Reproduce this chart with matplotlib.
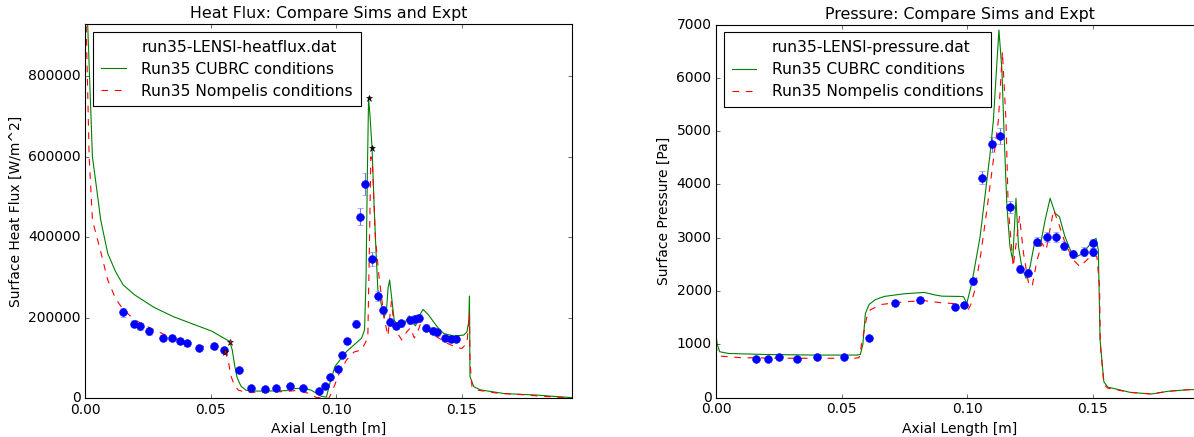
import numpy as np
import matplotlib
matplotlib.use('Agg')
import matplotlib.pyplot as plt
from matplotlib.lines import Line2D

plt.style.use('classic')

# --- heat flux: experiment (run35 LENS-I) ---
hf_x = [0.0150, 0.0195, 0.0219, 0.0255, 0.0311, 0.0345, 0.0376, 0.0405, 0.0452, 0.0511,
        0.0554, 0.0613, 0.0658, 0.0716, 0.0761, 0.0817, 0.0866, 0.0929, 0.0954, 0.0974,
        0.1005, 0.1022, 0.1044, 0.1077, 0.1095, 0.1114, 0.1140, 0.1165, 0.1184, 0.1214,
        0.1237, 0.1258, 0.1294, 0.1314, 0.1330, 0.1358, 0.1383, 0.1401, 0.1431, 0.1458,
        0.1476]
hf_y = [213700, 185500, 178900, 166500, 149000, 149000, 142400, 136600, 125900, 130000,
        120900, 71200, 25700, 23200, 25700, 29800, 24800, 19000, 29800, 52200,
        73700, 108000, 141600, 185500, 451200, 532400, 346100, 254200, 219400, 190300,
        180400, 186300, 194500, 196200, 198700, 175400, 168000, 164000, 150600, 148100,
        146600]
hf_err = [10700, 9300, 8900, 8300, 7500, 7500, 7100, 6800, 6300, 6500,
          6000, 3600, 1300, 1200, 1300, 1500, 1200, 1000, 1500, 2600,
          3700, 5400, 7100, 9300, 21500, 26500, 17000, 12500, 11000, 9500,
          9000, 9300, 9700, 9800, 9900, 8800, 8400, 8200, 7500, 7400,
          7300]

# --- heat flux: CUBRC conditions ---
hf_cubrc_x = [0.0, 0.0009, 0.0028, 0.0045, 0.0061, 0.0089, 0.012, 0.015, 0.0196, 0.0273,
              0.035, 0.0426, 0.0503, 0.0575, 0.0585, 0.0595, 0.0605, 0.062, 0.064, 0.066,
              0.072, 0.080, 0.083, 0.087, 0.090, 0.094, 0.096, 0.0975, 0.0994, 0.102,
              0.104, 0.1065, 0.1078, 0.110, 0.1112, 0.1118, 0.1123, 0.1128, 0.1134, 0.1142,
              0.1150, 0.1158, 0.1165, 0.118, 0.119, 0.1200, 0.1206, 0.1212, 0.1220, 0.1230,
              0.1245, 0.127, 0.1285, 0.1290, 0.1300, 0.1315, 0.1330, 0.1345, 0.1367, 0.1401,
              0.1427, 0.1467, 0.1507, 0.1520, 0.1527, 0.1530, 0.1532, 0.1547, 0.1573, 0.1666,
              0.1726, 0.180, 0.186, 0.192, 0.194]
hf_cubrc_y = [1100000, 930000, 600000, 520000, 443000, 360000, 315000, 282000, 257000, 226000,
              203000, 185000, 167000, 141000, 120000, 80000, 50000, 30000, 20000, 18000,
              18000, 19000, 24000, 25000, 20000, 5000, 3000, 40000, 79000, 100000,
              116000, 130000, 137000, 149000, 170000, 300000, 550000, 745000, 700000, 620000,
              480000, 360000, 270000, 230000, 200000, 225000, 275000, 294000, 250000, 195000,
              180000, 185000, 200000, 205000, 190000, 180000, 205000, 221000, 207000, 178000,
              161000, 155000, 157000, 165000, 190000, 254000, 54000, 29000, 21000, 12000,
              10000, 8000, 5000, 2500, 1500]

# --- heat flux: Nompelis conditions ---
hf_nomp_x = [0.0, 0.0003, 0.0015, 0.0028, 0.0061, 0.0089, 0.012, 0.015, 0.0196, 0.0273,
             0.035, 0.0426, 0.0503, 0.0558, 0.0570, 0.0580, 0.0595, 0.061, 0.064, 0.072,
             0.080, 0.085, 0.089, 0.092, 0.097, 0.0985, 0.101, 0.104, 0.107, 0.110,
             0.1125, 0.1132, 0.1137, 0.1143, 0.1150, 0.1155, 0.117, 0.119, 0.1205, 0.1219,
             0.123, 0.1245, 0.126, 0.128, 0.1295, 0.131, 0.132, 0.1335, 0.135, 0.138,
             0.142, 0.144, 0.148, 0.150, 0.152, 0.1530, 0.1532, 0.154, 0.1565, 0.165,
             0.172, 0.180, 0.187, 0.194]
hf_nomp_y = [1100000, 930000, 600000, 443000, 364000, 294000, 248000, 221000, 195000, 170000,
             149000, 135000, 124000, 114000, 90000, 55000, 30000, 20000, 15000, 15000,
             17000, 20000, 12000, 2000, 0, 20000, 60000, 95000, 115000, 120000,
             150000, 400000, 600000, 590000, 480000, 400000, 300000, 200000, 155000, 240000,
             180000, 160000, 145000, 165000, 175000, 150000, 160000, 185000, 180000, 160000,
             145000, 137000, 126000, 124000, 137000, 211000, 90000, 29000, 20000, 12000,
             10000, 6000, 3000, 500]

# starred points on the heat flux curves
hf_star_x = [0.0575, 0.0558]
hf_star_y = [140000, 114000]
hf_peak_x = [0.1128, 0.1142]
hf_peak_y = [745000, 623000]

# --- pressure: experiment ---
p_x = [0.0159, 0.0209, 0.0252, 0.0323, 0.0402, 0.0508, 0.0611, 0.0714, 0.0814, 0.0952,
       0.0986, 0.1023, 0.1059, 0.1098, 0.1132, 0.1170, 0.1211, 0.1241, 0.1277, 0.1317,
       0.1356, 0.1386, 0.1423, 0.1465, 0.1503, 0.1503]
p_y = [719, 719, 756, 719, 756, 756, 1113, 1781, 1831, 1706,
       1744, 2181, 4124, 4752, 4913, 3578, 2419, 2344, 2925, 3019,
       3019, 2850, 2694, 2738, 2731, 2894]
p_err = [20, 20, 22, 20, 22, 22, 32, 52, 54, 50,
         51, 64, 121, 140, 145, 105, 71, 69, 86, 89,
         89, 84, 79, 81, 81, 85]

# --- pressure: CUBRC conditions ---
p_cubrc_x = [0.0, 0.0005, 0.0015, 0.005, 0.02, 0.04, 0.056, 0.0575, 0.0585, 0.0595,
             0.061, 0.0635, 0.067, 0.075, 0.083, 0.087, 0.090, 0.0970, 0.0986, 0.0999,
             0.1019, 0.1052, 0.1092, 0.1105, 0.1127, 0.1139, 0.1148, 0.1159, 0.1171, 0.1182,
             0.1195, 0.1205, 0.1218, 0.1235, 0.1251, 0.1271, 0.1291, 0.1311, 0.1331, 0.1351,
             0.1368, 0.1390, 0.1417, 0.1437, 0.1463, 0.1497, 0.1514, 0.1523, 0.1530, 0.1545,
             0.156, 0.165, 0.1735, 0.180, 0.188, 0.194]
p_cubrc_y = [1175, 1000, 862, 830, 810, 800, 800, 810, 1000, 1581,
             1750, 1840, 1900, 1950, 1975, 1930, 1905, 1900, 1895, 1771,
             2146, 3021, 4585, 5210, 6899, 6148, 4897, 3583, 2833, 2583,
             3741, 2833, 2458, 2240, 2458, 2958, 2833, 3333, 3741, 3460,
             3396, 3021, 2709, 2646, 2709, 2927, 2990, 2771, 1083, 300,
             200, 100, 69, 120, 150, 155]

# --- pressure: Nompelis conditions ---
p_nomp_x = [0.0, 0.0005, 0.002, 0.01, 0.03, 0.055, 0.057, 0.058, 0.060, 0.0615,
            0.066, 0.075, 0.083, 0.090, 0.097, 0.099, 0.1000, 0.1015, 0.103, 0.1055,
            0.1079, 0.1105, 0.1125, 0.1141, 0.1155, 0.1164, 0.1184, 0.1209, 0.1225, 0.1245,
            0.1259, 0.1279, 0.1299, 0.1315, 0.1345, 0.1365, 0.1391, 0.1424, 0.1450, 0.1477,
            0.1497, 0.1517, 0.1528, 0.1531, 0.1545, 0.156, 0.165, 0.1735, 0.180, 0.188,
            0.194]
p_nomp_y = [1000, 850, 780, 750, 740, 740, 750, 1000, 1500, 1650,
            1750, 1800, 1820, 1780, 1760, 1700, 1600, 1750, 2000, 2700,
            3521, 4459, 5210, 6491, 5210, 3583, 2458, 3396, 2709, 2146,
            2083, 2583, 2896, 2771, 3521, 3271, 2896, 2583, 2458, 2583,
            2677, 2650, 2083, 1000, 250, 180, 100, 69, 120, 150,
            155]

W, H, DPI = 1194, 437, 80
fig = plt.figure(figsize=(W / DPI, H / DPI), dpi=DPI, facecolor='w')

ax1 = fig.add_axes([85.4 / W, 1 - 398.3 / H, 487.0 / W, 374.3 / H])
ax2 = fig.add_axes([716.0 / W, 1 - 397.7 / H, 487.0 / W, 373.1 / H])


def draw_panel(ax, ex, ey, eerr, cx, cy, nx, ny, datname, title, ylabel):
    ax.errorbar(ex, ey, yerr=eerr, fmt='o', color='b', ecolor=(0.45, 0.45, 1.0),
                mec='b', ms=7, capsize=3, elinewidth=1, zorder=3)
    ax.plot(cx, cy, 'g-', lw=1.0, zorder=2)
    ax.plot(nx, ny, 'r--', lw=1.0, zorder=2)
    handles = [Line2D([], [], linestyle='None', color='none'),
               Line2D([], [], color='g', lw=1.0),
               Line2D([], [], color='r', ls='--', lw=1.0)]
    labels = [datname, 'Run35 CUBRC conditions', 'Run35 Nompelis conditions']
    ax.legend(handles, labels, loc='upper left', fontsize=14, fancybox=False,
              numpoints=1, borderaxespad=0.5, handlelength=1.6,
              handletextpad=1.0, labelspacing=0.45, borderpad=0.5)
    ax.set_title(title, fontsize=14.3)
    ax.set_xlabel('Axial Length [m]', fontsize=12.5)
    ax.set_ylabel(ylabel, fontsize=12.5)
    ax.set_xticks([0.0, 0.05, 0.10, 0.15])
    ax.tick_params(labelsize=12.5)


draw_panel(ax1, hf_x, hf_y, hf_err, hf_cubrc_x, hf_cubrc_y, hf_nomp_x, hf_nomp_y,
           'run35-LENSI-heatflux.dat', 'Heat Flux: Compare Sims and Expt',
           'Surface Heat Flux [W/m^2]')
ax1.plot(hf_star_x, hf_star_y, 'r*', ms=6, mec='k', mew=0.5, zorder=4)
ax1.plot(hf_peak_x, hf_peak_y, 'k*', ms=6, zorder=4)
ax1.set_xlim(0, 0.194)
ax1.set_ylim(0, 930000)
ax1.set_yticks([0, 200000, 400000, 600000, 800000])

draw_panel(ax2, p_x, p_y, p_err, p_cubrc_x, p_cubrc_y, p_nomp_x, p_nomp_y,
           'run35-LENSI-pressure.dat', 'Pressure: Compare Sims and Expt',
           'Surface Pressure [Pa]')
ax2.set_xlim(0, 0.194)
ax2.set_ylim(0, 7000)

fig.savefig('out.png', dpi=DPI, facecolor='w')
